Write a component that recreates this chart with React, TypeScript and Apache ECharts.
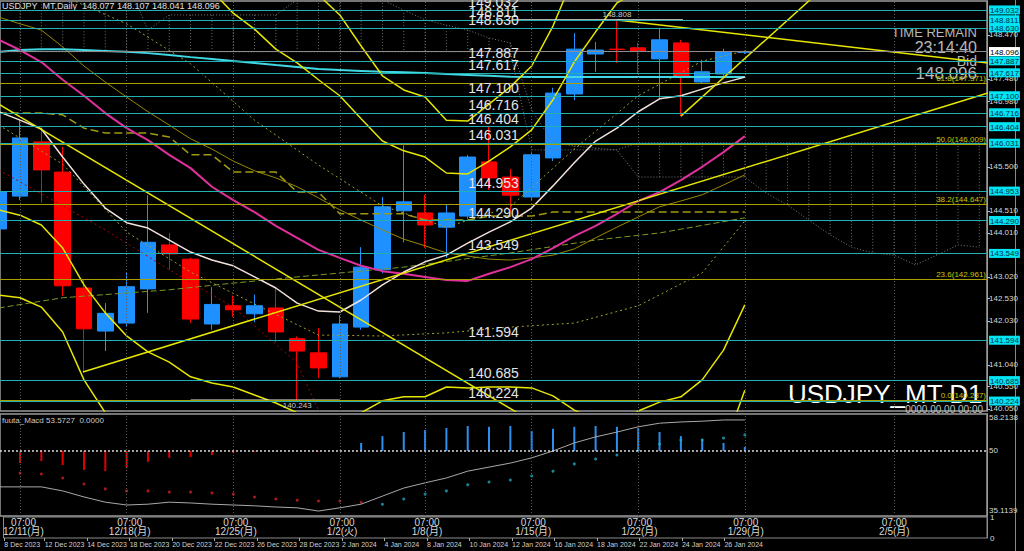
import React, { useEffect, useRef } from 'react';
import * as echarts from 'echarts';

const FONT = '"Liberation Sans", "Noto Sans CJK JP", sans-serif';

// ---- bar dates (index 0..35) ----
const barDates = ['8 Dec 2023','11 Dec 2023','12 Dec 2023','13 Dec 2023','14 Dec 2023','15 Dec 2023','18 Dec 2023','19 Dec 2023','20 Dec 2023','21 Dec 2023','22 Dec 2023','25 Dec 2023','26 Dec 2023','27 Dec 2023','28 Dec 2023','29 Dec 2023','2 Jan 2024','3 Jan 2024','4 Jan 2024','5 Jan 2024','8 Jan 2024','9 Jan 2024','10 Jan 2024','11 Jan 2024','12 Jan 2024','15 Jan 2024','16 Jan 2024','17 Jan 2024','18 Jan 2024','19 Jan 2024','22 Jan 2024','23 Jan 2024','24 Jan 2024','25 Jan 2024','26 Jan 2024','29 Jan 2024'];
const dateLabelIdx = [0.1,2,4,6,8,10,12,14,16,18,20,22,24,26,28,30,32,34];
const weekIdx = [1,6,11,16,20,25,30,35,42];
const weekLabels = ['12/11(月)','12/18(月)','12/25(月)','1/2(火)','1/8(月)','1/15(月)','1/22(月)','1/29(月)','2/5(月)'];

// ---- OHLC ----
const opens  = [144.10,144.84,146.06,145.38,142.77,141.80,141.98,142.75,143.74,143.42,141.96,142.37,142.19,142.32,141.63,141.31,140.77,141.89,143.18,144.51,144.46,144.14,144.39,145.61,145.27,144.82,145.70,147.14,148.04,148.15,148.18,147.93,148.29,147.41,147.59,148.077];
const closes = [144.93,146.15,145.43,142.82,141.85,142.20,142.80,143.80,143.54,142.07,142.40,142.28,142.37,141.78,141.35,140.97,141.96,143.24,144.60,144.71,144.19,144.46,145.72,145.25,144.86,145.77,147.16,148.15,148.13,148.14,148.10,148.36,147.52,147.64,148.096,148.096];
const lows   = [143.90,144.75,144.69,142.59,140.88,141.35,141.90,142.21,143.18,141.98,141.83,142.12,142.00,141.55,140.243,140.74,140.74,141.83,143.10,143.80,143.67,143.45,144.33,144.98,144.48,144.75,145.63,147.00,147.64,147.84,147.61,147.05,146.64,147.38,147.50,148.041];
const highs  = [145.20,146.55,146.40,145.95,142.95,142.43,143.13,144.86,144.01,143.45,142.79,142.60,142.62,142.79,141.68,141.87,142.16,143.69,144.82,145.98,144.87,144.64,145.77,146.40,145.45,145.84,147.28,148.51,148.31,148.808,148.29,148.63,148.36,147.91,148.16,148.107];

// ---- indicators (per bar index) ----
const maCyan = [148.09,148.13,148.15,148.15,148.13,148.11,148.09,148.06,148.02,147.97,147.93,147.88,147.84,147.79,147.75,147.70,147.68,147.66,147.64,147.63,147.61,147.59,147.57,147.55,147.53,147.52,147.52,147.52,147.52,147.52,147.52,147.52,147.52,147.52,147.52,147.52];
const maWhite = [146.74,146.55,146.35,145.72,145.11,144.57,144.24,144.12,143.85,143.58,143.40,143.27,143.02,142.77,142.43,142.25,142.23,142.50,142.84,143.13,143.36,143.51,143.78,144.03,144.26,144.57,145.07,145.59,146.08,146.37,146.74,147.03,147.10,147.25,147.39,147.52];
const bbMid = [148.36,148.13,147.86,147.46,147.10,146.71,146.37,146.10,145.77,145.47,145.05,144.75,144.48,144.17,143.90,143.63,143.45,143.27,143.15,143.09,143.02,142.95,142.93,143.09,143.24,143.42,143.67,143.94,144.17,144.44,144.73,144.93,145.20,145.50,145.83,146.19];
const bbUp2 = [152.19,151.85,151.53,151.24,151.35,151.22,151.06,150.88,150.43,150.18,149.46,148.96,148.60,148.15,147.84,147.46,147.10,146.58,146.08,145.86,145.72,145.36,145.34,145.63,145.95,146.33,147.01,147.86,148.54,149.19,149.46,149.66,150.09,150.29,150.29,150.00];
const bbLo2 = [144.53,144.41,144.19,143.67,142.84,142.21,141.69,141.33,141.10,140.77,140.63,140.54,140.36,140.18,139.96,139.80,139.80,139.96,140.23,140.32,140.32,140.54,140.52,140.54,140.54,140.52,140.34,140.02,139.80,139.69,140.00,140.20,140.32,140.70,141.37,142.39];
const bbUp3 = [154.10,153.72,153.38,153.13,153.49,153.47,153.40,153.27,152.77,152.55,151.67,151.08,150.68,150.16,149.82,149.37,148.92,148.22,147.55,147.23,147.07,146.55,146.53,146.91,147.30,147.77,148.67,149.82,150.72,151.58,151.82,152.03,152.52,152.70,152.52,151.91];
const bbLo3 = [142.61,142.55,142.34,141.78,140.70,139.96,139.35,138.94,138.76,138.40,138.42,138.42,138.29,138.18,137.97,137.88,137.97,138.31,138.76,138.92,138.97,139.33,139.30,139.26,139.19,139.08,138.67,138.06,137.61,137.30,137.64,137.84,137.88,138.29,139.14,140.47];
const olive50 = [148.87,148.72,148.58,148.20,147.77,147.41,147.07,146.74,146.44,146.13,145.90,145.63,145.41,145.25,145.05,144.80,144.53,144.30,144.08,143.87,143.72,143.56,143.49,143.42,143.40,143.45,143.51,143.65,143.90,144.14,144.37,144.60,144.73,144.87,145.09,145.32];
const kijun = [146.71,146.71,146.71,146.67,146.37,146.26,146.26,146.26,146.17,145.77,145.77,145.38,145.38,145.38,144.93,144.93,144.44,144.44,144.44,144.44,144.30,144.30,144.30,144.39,144.39,144.39,144.48,144.48,144.48,144.48,144.48,144.48,144.48,144.48,144.48,144.48];
const greenDash = [[0,142.32],[3,142.55],[8,142.73],[11,142.88],[14,143.02],[19,143.24],[24,143.56],[28,143.85],[31,144.01],[35,144.35]];
const bbUp1 = [[0,150.27],[3,149.35],[6,148.72],[9,147.82],[12,146.55],[15,145.54],[18,144.62],[21,144.14],[24,144.60],[27,145.90],[30,147.10],[33,147.88],[35,148.11]];
const bbLo1 = [[0,146.44],[3,145.56],[6,144.03],[9,143.13],[12,142.41],[15,141.71],[18,141.69],[21,141.76],[24,141.89],[27,141.98],[30,142.37],[33,143.11],[35,144.28]];
const redDotted = [[0,145.43],[5,144.08],[8,143.18],[11,142.34],[14,141.08],[15,140.02],[16,139.5]];
// Ichimoku cloud (index 0..46)
const cloudA = [149.70,149.70,149.70,149.70,149.70,149.70,149.70,148.58,148.92,148.92,148.92,148.92,148.92,148.92,149.26,149.26,149.26,149.26,149.26,149.03,148.81,148.69,148.58,148.40,148.29,146.78,146.04,145.97,145.92,145.88,146.04,146.04,146.04,146.04,146.04,146.04,146.04,146.04,146.04,146.04,146.04,146.04,146.04,146.04,146.04,146.04,146.04];
const cloudB = [148.09,148.09,148.09,148.09,148.09,148.09,148.09,148.09,148.09,148.09,148.09,148.09,148.09,148.09,148.09,148.09,148.09,148.09,148.09,148.09,148.09,148.09,148.09,148.09,148.09,145.88,145.88,145.88,145.88,145.88,145.27,145.27,145.27,145.27,145.27,145.27,144.91,144.64,144.30,143.97,143.69,143.56,143.51,143.29,143.51,143.74,143.69];

// ---- drawn objects ----
const levelLines = [149.032,148.811,148.630,147.887,147.617,147.100,146.716,146.404,146.031,144.953,144.290,143.549,141.594,140.685,140.224];
const fibPct = [61.8,50.0,38.2,23.6,0.0];
const fibPrices = [147.371,146.009,144.647,142.961,140.237];
const bidPrice = 148.096;
const axisPrices = [148.470,147.480,146.980,145.500,144.510,144.010,143.020,142.530,142.030,141.040,140.550,140.050];
const trendLines = [
  [[0,146.91],[25,139.77]],
  [[3.95,140.88],[46.4,147.16]],
  [[29,148.808],[46.4,147.84]],
  [[32,146.64],[38.5,149.45]],
];
const swingHigh = { price: 148.808, from: 24.1, to: 32.1, at: 29 };
const swingLow = { price: 140.243, from: 9, to: 16, at: 14 };

// ---- oscillator ----
const macdHist = [47.0,47.5,46.5,45.3,45.0,45.8,47.3,48.3,48.5,49.0,49.6,49.8,49.9,49.9,49.9,50.1,52.0,53.7,54.7,55.2,55.7,56.2,56.0,56.2,55.0,55.5,56.0,56.2,56.0,55.7,54.7,53.7,53.0,52.0,51.0]; // index 1..35
const sigRed = [44.5,44.3,43.3,41.8,40.6,40.1,40.1,39.8,39.8,39.6,39.3,38.6,38.1,37.8,37.6,37.6,37.3]; // index 1..17
const sigCyan = [36.8,38.1,39.3,40.1,41.6,42.3,42.8,43.8,45.0,46.8,48.0,49.0,50.2,51.7,52.7,52.7,53.2,54.0]; // index 18..35
const macdLine = [41.1,41.1,41.1,40.1,38.6,37.3,36.6,36.8,37.3,37.1,36.8,36.6,36.4,36.1,35.9,35.1,35.9,36.8,38.8,40.8,42.1,43.3,45.0,46.0,47.0,48.3,50.0,52.0,53.5,54.7,56.0,56.9,57.2,57.4,57.7,57.7];
const macdAxisLabels = [58.2138, 50, 35.1139];

const XMIN = 0.06;
const XMAX = 46.36;

const near = (a: number, b: number) => Math.abs(a - b) < 0.0005;
const idx = (arr: number[], start = 0) => arr.map((v, i) => [i + start, v]);

function lineS(data: any[], color: string, width: number, type: any = 'solid', extra: any = {}) {
  return {
    type: 'line', xAxisIndex: 0, yAxisIndex: 0, data, symbol: 'none', showSymbol: false,
    silent: true, clip: true, lineStyle: { color, width, type }, ...extra,
  };
}

export default function App() {
  const ref = useRef<HTMLDivElement>(null);
  useEffect(() => {
    document.body.style.margin = '0';
    document.body.style.background = '#000';
    const chart = echarts.init(ref.current as HTMLDivElement, null, { renderer: 'svg' });

    const rightLabels = [...axisPrices, ...levelLines, bidPrice];

    const option: any = {
      animation: false,
      backgroundColor: '#000',
      textStyle: { fontFamily: FONT },
      grid: [
        { left: 0, top: 1, width: 987, height: 410, show: true, borderColor: '#9a9a9a', borderWidth: 1.5 },
        { left: 0, top: 414, width: 987, height: 102, show: true, borderColor: '#9a9a9a', borderWidth: 1.5 },
        { left: 0, top: 517, width: 987, height: 21, show: true, borderColor: '#8a8a8a', borderWidth: 1 },
      ],
      xAxis: [
        { gridIndex: 0, type: 'value', min: XMIN, max: XMAX, show: false },
        { gridIndex: 1, type: 'value', min: XMIN, max: XMAX, show: false },
        {
          gridIndex: 2, type: 'value', min: XMIN, max: XMAX, position: 'top',
          axisLine: { show: false }, axisTick: { show: false }, splitLine: { show: false },
          axisLabel: {
            inside: true, customValues: weekIdx, margin: 1, color: '#d8d8d8', fontSize: 10, lineHeight: 9,
            formatter: (v: number) => '07:00\n' + weekLabels[weekIdx.indexOf(v)],
          },
        },
        {
          gridIndex: 2, type: 'value', min: XMIN, max: XMAX, position: 'bottom',
          axisLine: { show: false }, splitLine: { show: false },
          axisTick: { show: true, customValues: dateLabelIdx, length: 3, lineStyle: { color: '#aaaaaa' } },
          axisLabel: {
            customValues: dateLabelIdx, align: 'left', margin: 3, color: '#d0d0d0', fontSize: 7,
            hideOverlap: false,
            formatter: (v: number) => barDates[Math.round(v)],
          },
        },
      ],
      yAxis: [
        {
          gridIndex: 0, type: 'value', min: 140.0, max: 149.234, position: 'right',
          axisLine: { show: true, lineStyle: { color: '#9a9a9a' } },
          splitLine: { show: false },
          axisTick: { show: true, customValues: axisPrices, length: 3, lineStyle: { color: '#bbbbbb' } },
          axisLabel: {
            customValues: rightLabels, margin: 2, fontSize: 8,
            formatter: (v: number) => {
              const s = v.toFixed(3);
              if (near(v, bidPrice)) return '{w|' + s + '}';
              if (levelLines.some((l) => near(l, v))) return '{c|' + s + '}';
              return '{n|' + s + '}';
            },
            rich: {
              c: { backgroundColor: '#00e5f5', color: '#003040', fontSize: 8, padding: [1, 1, 0, 1] },
              w: { backgroundColor: '#ffffff', color: '#000000', fontSize: 8, padding: [1, 1, 0, 1] },
              n: { color: '#d8d8d8', fontSize: 8 },
            },
          },
        },
        {
          gridIndex: 1, type: 'value', min: 33.87, max: 59.18, position: 'right',
          axisLine: { show: true, lineStyle: { color: '#9a9a9a' } }, axisTick: { show: false }, splitLine: { show: false },
          axisLabel: { customValues: macdAxisLabels, margin: 2, color: '#d8d8d8', fontSize: 8, formatter: (v: number) => String(v) },
        },
        {
          gridIndex: 2, type: 'value', min: 0, max: 1, position: 'right',
          axisLine: { show: true, lineStyle: { color: '#8a8a8a' } }, axisTick: { show: false }, splitLine: { show: false },
          axisLabel: { customValues: [0, 1], margin: 3, color: '#d8d8d8', fontSize: 8 },
        },
      ],
      series: [
        // weekly dotted separators
        {
          type: 'line', xAxisIndex: 0, yAxisIndex: 0, data: [], silent: true,
          markLine: { symbol: 'none', silent: true, label: { show: false },
            lineStyle: { color: '#5a5a5a', width: 1, type: [1, 2] }, data: weekIdx.map((i) => ({ xAxis: i })) },
        },
        {
          type: 'line', xAxisIndex: 1, yAxisIndex: 1, data: [], silent: true,
          markLine: { symbol: 'none', silent: true, label: { show: false },
            lineStyle: { color: '#5a5a5a', width: 1, type: [1, 2] }, data: weekIdx.map((i) => ({ xAxis: i })) },
        },
        // Ichimoku cloud hatch
        {
          type: 'custom', xAxisIndex: 0, yAxisIndex: 0, silent: true, clip: true,
          data: cloudA.map((a, i) => [i, a, cloudB[i]]),
          encode: { x: 0, y: [1, 2] },
          renderItem: (params: any, api: any) => {
            const x = api.value(0);
            const p1 = api.coord([x, api.value(1)]);
            const p2 = api.coord([x, api.value(2)]);
            return { type: 'line', shape: { x1: p1[0], y1: p1[1], x2: p2[0], y2: p2[1] },
              style: { stroke: '#6e6e6e', lineWidth: 1, lineDash: [1, 2] } };
          },
        },
        lineS(idx(cloudA), '#7a7a7a', 1, [1, 2]),
        lineS(idx(cloudB), '#7a7a7a', 1, [1, 2]),
        // candles
        {
          type: 'candlestick', xAxisIndex: 0, yAxisIndex: 0, barWidth: 16, silent: true, clip: true,
          data: opens.map((o, i) => [i, o, closes[i], lows[i], highs[i]]),
          encode: { x: 0, y: [1, 2, 3, 4] },
          itemStyle: { color: '#1e90ff', color0: '#ff0000', borderColor: '#1e90ff', borderColor0: '#ff0000', borderWidth: 1 },
        },
        // indicators
        lineS(redDotted, '#b00000', 1, [2, 3]),
        lineS(greenDash, '#7a9a20', 1, [6, 3]),
        lineS(idx(olive50), '#9a8800', 1),
        lineS(idx(kijun), '#a09a10', 1.5, [8, 4]),
        lineS(bbUp1, '#a0a030', 1, [2, 3]),
        lineS(bbLo1, '#a0a030', 1, [2, 3]),
        lineS(idx(maCyan), '#40d8e4', 2),
        lineS(idx(bbMid), '#e0309c', 2),
        lineS(idx(maWhite), '#f0e2da', 1.5),
        lineS(idx(bbUp2), '#e6e600', 1.5),
        lineS(idx(bbLo2), '#e6e600', 1.5),
        lineS(idx(bbUp3), '#e6e600', 1.5),
        lineS(idx(bbLo3), '#e6e600', 1.5),
        ...trendLines.map((t) => lineS(t, '#e6e600', 1.5)),
        // horizontal levels
        {
          type: 'line', xAxisIndex: 0, yAxisIndex: 0, data: [], silent: true,
          markLine: {
            symbol: 'none', silent: true, precision: 3,
            lineStyle: { color: '#22b0b0', width: 1, type: 'solid' },
            label: { show: true, position: 'insideMiddleTop', distance: 1, color: '#e4e4e4', fontSize: 14, fontFamily: FONT,
              formatter: (p: any) => p.name },
            data: levelLines.map((v) => ({ yAxis: v, name: v.toFixed(3) })),
          },
        },
        {
          type: 'line', xAxisIndex: 0, yAxisIndex: 0, data: [], silent: true,
          markLine: {
            symbol: 'none', silent: true, precision: 3,
            lineStyle: { color: '#a8a000', width: 1, type: 'solid' },
            label: { show: true, position: 'insideEndTop', distance: 1, color: '#c8c800', fontSize: 8,
              formatter: (p: any) => p.name },
            data: fibPrices.map((v, i) => ({ yAxis: v, name: fibPct[i].toFixed(1) + '(' + v.toFixed(3) + ')' })),
          },
        },
        {
          type: 'line', xAxisIndex: 0, yAxisIndex: 0, data: [], silent: true,
          markLine: { symbol: 'none', silent: true, precision: 3, label: { show: false },
            lineStyle: { color: '#8c8c8c', width: 1, type: 'solid' }, data: [{ yAxis: bidPrice }] },
        },
        // swing high / low
        lineS([[swingHigh.from, swingHigh.price], [swingHigh.to, swingHigh.price]], '#e8e8e8', 1.5, 'solid', {
          markPoint: { symbol: 'circle', symbolSize: 1, itemStyle: { color: 'transparent' },
            label: { show: true, position: 'top', distance: 1, color: '#c8c8c8', fontSize: 8, formatter: (p: any) => p.name },
            data: [{ coord: [swingHigh.at, swingHigh.price], name: swingHigh.price.toFixed(3) }] },
        }),
        lineS([[swingLow.from, swingLow.price], [swingLow.to, swingLow.price]], '#e8e8e8', 1.5, 'solid', {
          markPoint: { symbol: 'circle', symbolSize: 1, itemStyle: { color: 'transparent' },
            label: { show: true, position: 'bottom', distance: 1, color: '#c8c8c8', fontSize: 8, formatter: (p: any) => p.name },
            data: [{ coord: [swingLow.at, swingLow.price], name: swingLow.price.toFixed(3) }] },
        }),
        // oscillator
        {
          type: 'line', xAxisIndex: 1, yAxisIndex: 1, data: [], silent: true,
          markLine: { symbol: 'none', silent: true, label: { show: false },
            lineStyle: { color: '#d8d8d8', width: 1.5, type: [2, 2] }, data: [{ yAxis: 50 }] },
        },
        {
          type: 'custom', xAxisIndex: 1, yAxisIndex: 1, silent: true,
          data: idx(macdHist, 1), encode: { x: 0, y: 1 },
          renderItem: (params: any, api: any) => {
            const x = api.value(0); const v = api.value(1);
            const p0 = api.coord([x, 50]); const p1 = api.coord([x, v]);
            return { type: 'line', shape: { x1: p0[0], y1: p0[1], x2: p1[0], y2: p1[1] },
              style: { stroke: v >= 50 ? '#2a8ff0' : '#e00000', lineWidth: 2 } };
          },
        },
        {
          type: 'line', xAxisIndex: 1, yAxisIndex: 1, data: idx(macdLine), symbol: 'none', silent: true,
          lineStyle: { color: '#a8a8a8', width: 1 },
        },
        { type: 'scatter', xAxisIndex: 1, yAxisIndex: 1, data: idx(sigRed, 1), symbolSize: 3, silent: true, itemStyle: { color: '#d02020' } },
        { type: 'scatter', xAxisIndex: 1, yAxisIndex: 1, data: idx(sigCyan, 18), symbolSize: 3, silent: true, itemStyle: { color: '#20a8c0' } },
      ],
      graphic: [
        { type: 'text', left: 2, top: 1, silent: true, style: { text: 'USDJPY_MT,Daily  148.077 148.107 148.041 148.096', fill: '#e0e0e0', font: '9px ' + FONT } },
        { type: 'text', right: 47, top: 26, silent: true, style: { text: 'TIME REMAIN', fill: '#b8b8b8', font: '13px ' + FONT } },
        { type: 'text', right: 47, top: 39, silent: true, style: { text: '23:14:40', fill: '#b8b8b8', font: '16px ' + FONT } },
        { type: 'text', right: 47, top: 54, silent: true, style: { text: 'Bid', fill: '#b8b8b8', font: '14px ' + FONT } },
        { type: 'text', right: 47, top: 65, silent: true, style: { text: '148.096', fill: '#b8b8b8', font: '17px ' + FONT } },
        { type: 'text', right: 41, top: 381, silent: true, style: { text: 'USDJPY_MT D1', fill: '#ffffff', font: '26px ' + FONT } },
        { type: 'text', right: 41, top: 404, silent: true, style: { text: '0000.00.00 00:00', fill: '#c0c0c0', font: '10px ' + FONT } },
        { type: 'text', left: 2, top: 416, silent: true, style: { text: 'fuuta_Macd 53.5727  0.0000', fill: '#c8c8c8', font: '8px ' + FONT } },
        { type: 'line', silent: true, shape: { x1: 1015.5, y1: 0, x2: 1015.5, y2: 551 }, style: { stroke: '#8a8a8a', lineWidth: 1 } },
      ],
    };

    chart.setOption(option);
    return () => chart.dispose();
  }, []);
  return <div ref={ref} style={{ width: 1024, height: 551, background: '#000' }} />;
}
